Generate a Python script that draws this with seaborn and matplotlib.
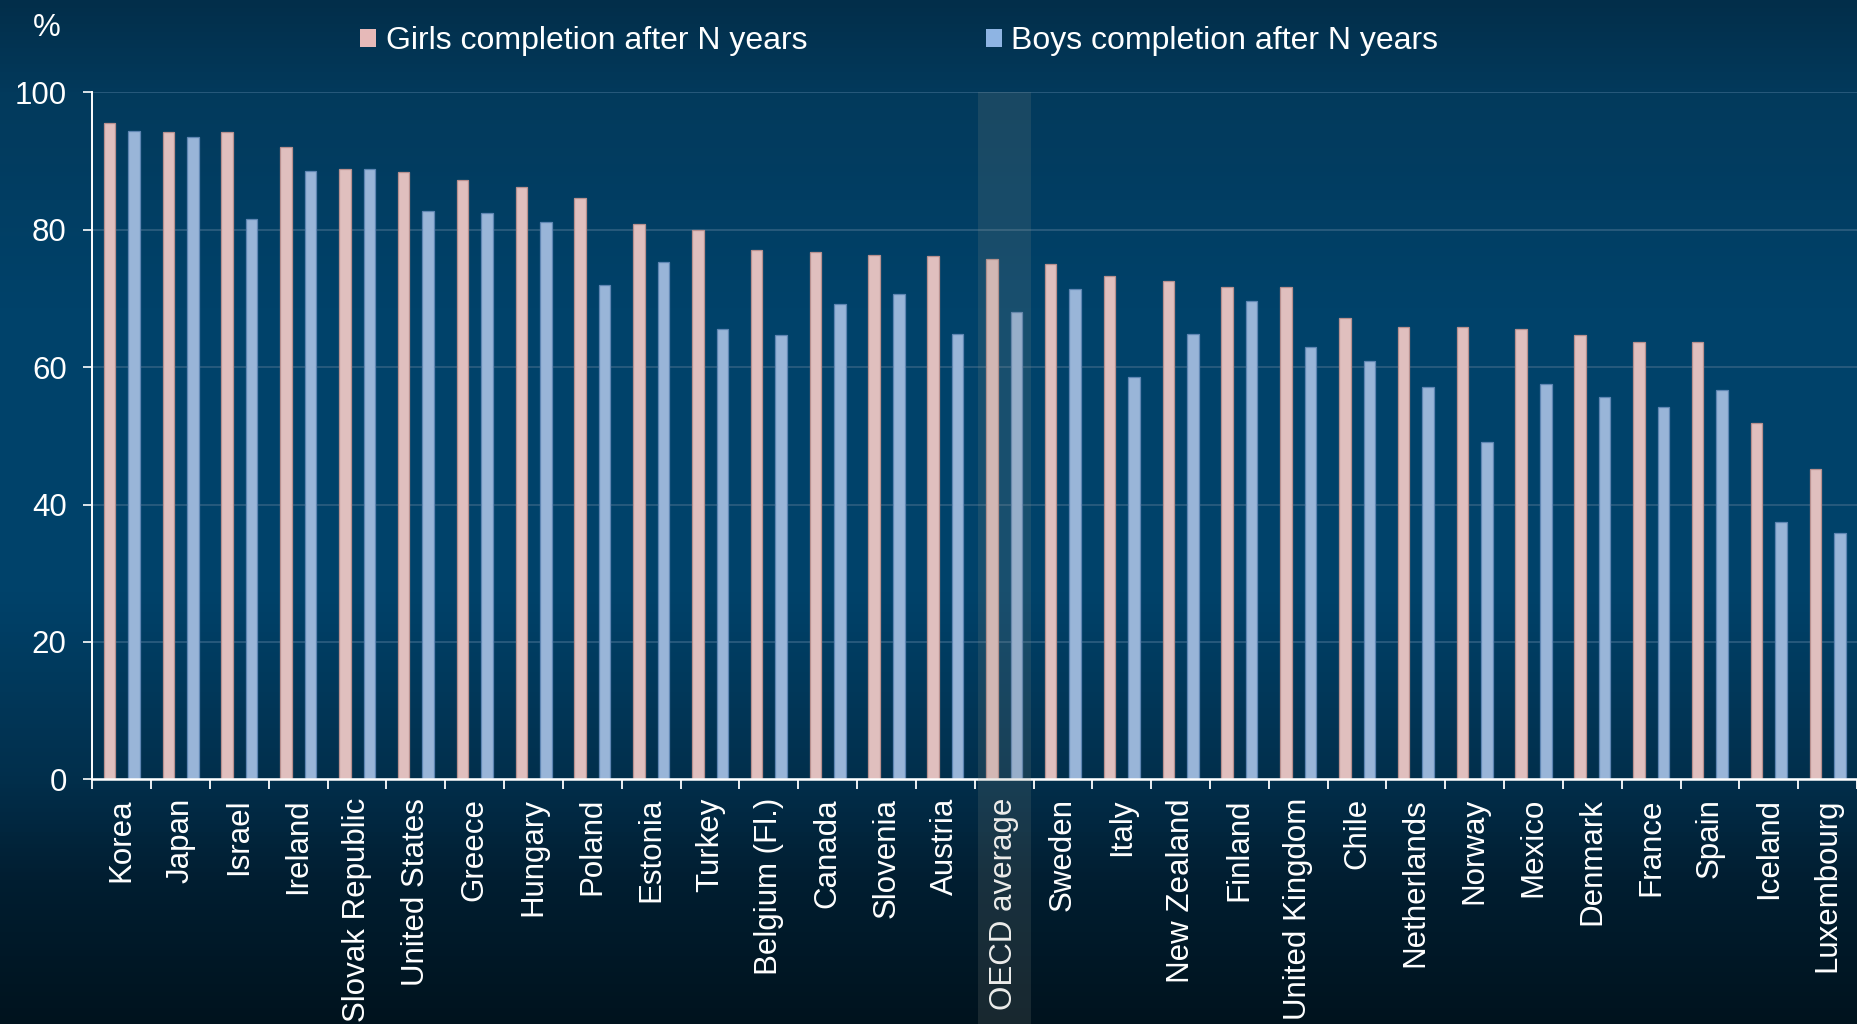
import numpy as np
import pandas as pd
import matplotlib
matplotlib.use("Agg")
import matplotlib.pyplot as plt
import matplotlib.transforms as mtransforms
from matplotlib.colors import LinearSegmentedColormap
from matplotlib.patches import Patch, Rectangle
import seaborn as sns

countries = [
    "Korea", "Japan", "Israel", "Ireland", "Slovak Republic", "United States",
    "Greece", "Hungary", "Poland", "Estonia", "Turkey", "Belgium (Fl.)",
    "Canada", "Slovenia", "Austria", "OECD average", "Sweden", "Italy",
    "New Zealand", "Finland", "United Kingdom", "Chile", "Netherlands",
    "Norway", "Mexico", "Denmark", "France", "Spain", "Iceland", "Luxembourg",
]
girls = [95.6, 94.3, 94.3, 92.0, 88.9, 88.4, 87.2, 86.2, 84.6, 80.9,
         80.0, 77.1, 76.8, 76.3, 76.2, 75.8, 75.0, 73.2, 72.6, 71.7,
         71.6, 67.2, 65.8, 65.8, 65.6, 64.7, 63.7, 63.6, 51.9, 45.2]
boys = [94.4, 93.5, 81.5, 88.5, 88.8, 82.7, 82.5, 81.1, 72.0, 75.3,
        65.5, 64.7, 69.2, 70.6, 64.9, 68.0, 71.4, 58.6, 64.8, 69.6,
        63.0, 60.9, 57.1, 49.1, 57.5, 55.6, 54.2, 56.7, 37.5, 35.8]
series_labels = ["Girls completion after N years", "Boys completion after N years"]
highlight = "OECD average"
y_ticks = [0, 20, 40, 60, 80, 100]

PINK = "#E6B9B8"
BLUE = "#8EB4E3"
EDGES = {PINK: "#b8908f", BLUE: "#5f86b3"}

sns.set_style("white")
plt.rcParams["font.family"] = ["Liberation Sans", "DejaVu Sans"]

df = pd.DataFrame({
    "country": countries * 2,
    "series": [series_labels[0]] * len(countries) + [series_labels[1]] * len(countries),
    "value": girls + boys,
})

W, H = 1857, 1024
fig = plt.figure(figsize=(W / 100, H / 100), dpi=100)

# vertical gradient backdrop
bg = fig.add_axes([0, 0, 1, 1], zorder=-10)
bg.axis("off")
cmap = LinearSegmentedColormap.from_list("bg", [
    (0.00, "#022e4a"),
    (0.09, "#033a5c"),
    (0.30, "#00426a"),
    (0.58, "#00426a"),
    (0.76, "#022f4c"),
    (0.86, "#011e31"),
    (1.00, "#00131e"),
])
grad = np.linspace(0, 1, 512).reshape(-1, 1)
bg.imshow(grad, aspect="auto", cmap=cmap, extent=[0, 1, 0, 1], origin="upper")
bg.set_xlim(0, 1)
bg.set_ylim(0, 1)

left = 92.4 / W
bottom = 1 - 779.3 / H
top = 1 - 92.4 / H
ax = fig.add_axes([left, bottom, 1 - left, top - bottom])
ax.set_facecolor("none")

sns.barplot(data=df, x="country", y="value", hue="series",
            palette=[PINK, BLUE], width=0.835, gap=0.53,
            linewidth=0.9, legend=False, ax=ax, zorder=3)
for container, col in zip(ax.containers, [PINK, BLUE]):
    for bar in container:
        bar.set_edgecolor(EDGES[col])

ax.set_ylim(0, 100)
ax.set_xlim(-0.5, len(countries) - 0.5)
ax.set_yticks(y_ticks)
ax.yaxis.grid(True, color="#2a5c7e", linewidth=1.3, zorder=0)
ax.set_axisbelow(True)
ax.set_xlabel("")
ax.set_ylabel("")

for side in ("top", "right"):
    ax.spines[side].set_visible(False)
ax.spines["left"].set_color("white")
ax.spines["left"].set_linewidth(1.4)
ax.spines["bottom"].set_color("white")
ax.spines["bottom"].set_linewidth(1.8)
ax.spines["bottom"].set_zorder(5)

ax.tick_params(axis="y", left=True, colors="white", labelsize=22.5,
               length=6.5, width=1.2, pad=12, direction="out")
ax.tick_params(axis="x", which="major", bottom=True, colors="white",
               labelsize=22.5, length=0, pad=13.5, labelrotation=90)
ax.set_xticks(np.arange(-0.5, len(countries), 1.0), minor=True)
ax.tick_params(axis="x", which="minor", bottom=True, colors="white",
               length=7, width=1.3, direction="out")

# shaded column for the OECD average
hi = countries.index(highlight)
trans = mtransforms.blended_transform_factory(ax.transData, ax.transAxes)
ax.add_patch(Rectangle((hi - 0.45, -0.36), 0.9, 1.36, transform=trans,
                       facecolor="#8f9186", alpha=0.17, edgecolor="none",
                       clip_on=False, zorder=6))

fig.text(47 / W, 1 - 28 / H, "%", color="white", fontsize=22.5,
         ha="center", va="center")

handles = [Patch(facecolor=PINK, edgecolor="none"),
           Patch(facecolor=BLUE, edgecolor="none")]
fig.legend(handles, series_labels, loc="center left",
           bbox_to_anchor=(360 / W, 1 - 41.5 / H), ncol=2, frameon=False,
           fontsize=23, labelcolor="white", handlelength=0.5,
           handleheight=0.5, handletextpad=0.3, columnspacing=5.6,
           borderpad=0, borderaxespad=0)

fig.savefig("out.png", dpi=100)
